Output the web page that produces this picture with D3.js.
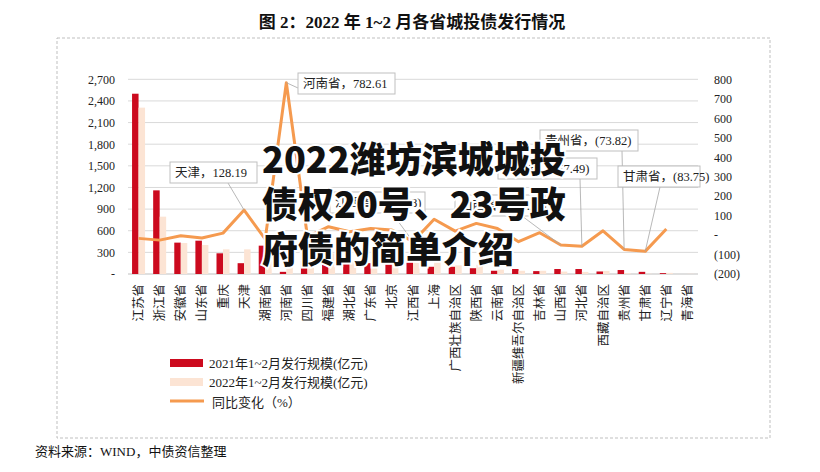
<!DOCTYPE html>
<html><head><meta charset="utf-8">
<script src="https://cdn.jsdelivr.net/npm/d3@7/dist/d3.min.js"></script>
<style>body{margin:0;background:#fff}svg{display:block}</style>
</head><body>
<svg id="c" width="820" height="472"></svg>
<script>
const categories = ["江苏省","浙江省","安徽省","山东省","重庆","天津","湖南省","河南省","四川省","福建省","湖北省","广东省","北京","江西省","上海","广西壮族自治区","陕西省","云南省","新疆维吾尔自治区","吉林省","山西省","河北省","西藏自治区","贵州省","甘肃省","辽宁省","青海省"];
const issue2021 = [2500,1160,435,462,287,150,393,30,180,200,180,150,160,230,100,100,80,45,69,40,69,69,35,55,30,12,0];
const issue2022 = [2307,795,430,402,342,342,310,265,175,285,205,200,210,152,180,120,128,60,45,45,34,29,43,14,5,16,3];
const yoyChange = [-17,-26,-4,-15,10,128.19,-21,782.61,-9,43,17,34,26,-33.58,81,20,60,34,-34,12,-51,-57.49,22,-73.82,-83.75,31,null];
const leftTicks = [0,300,600,900,1200,1500,1800,2100,2400,2700];
const rightTicks = [-200,-100,0,100,200,300,400,500,600,700,800];
const seriesNames = ["2021年1~2月发行规模(亿元)","2022年1~2月发行规模(亿元)","同比变化（%）"];
const calloutCats = ["河南省","天津","江西省","山西省","河北省","贵州省","甘肃省"];
const calloutTexts = ["河南省，782.61","天津，128.19","江西省，(33.58)","山西省，(51.26)","河北省，(57.49)","贵州省，(73.82)","甘肃省，(83.75)"];

// layout (not data)
const calloutBoxes = [[298,73,97,21],[170,162,87,21],[330,192,95,21],[455,195,90,21],[498,158,99,21],[540,130,98,21],[618,166,82,21]];
const calloutLeaderFrom = [[298,88],[228,183],[392,213],[522,216],[580,179],[622,151],[660,187]];

const svg = d3.select("#c");
const FONT = "'Liberation Serif','Noto Sans CJK SC',serif";
const RED = "#CC0A1E", PEACH = "#FCE4D4", ORANGE = "#F59A4F";
const plotL = 128, plotR = 698, plotT = 79.3, plotB = 274;

// title
svg.append("text").attr("x",412).attr("y",28).attr("text-anchor","middle")
  .attr("font-family",FONT).attr("font-weight","bold").attr("font-size",17).attr("fill","#111")
  .text("图 2：2022 年 1~2 月各省城投债发行情况");
// dashed frame
svg.append("rect").attr("x",57).attr("y",38).attr("width",713).attr("height",400)
  .attr("fill","none").attr("stroke","#bfbfbf").attr("stroke-dasharray","3,2");
// source
svg.append("text").attr("x",35).attr("y",456).attr("font-family",FONT).attr("font-size",13).attr("fill","#111")
  .text("资料来源：WIND，中债资信整理");

const x = d3.scaleBand().domain(categories).range([plotL,plotR]).paddingInner(0).paddingOuter(0);
const yL = d3.scaleLinear().domain([0,2700]).range([plotB,plotT]);
const yR = d3.scaleLinear().domain([-200,800]).range([plotB,plotT]);

// grid
svg.append("g").selectAll("line").data(leftTicks).join("line")
  .attr("x1",plotL).attr("x2",plotR).attr("y1",d=>yL(d)).attr("y2",d=>yL(d))
  .attr("stroke",d=>d===0?"#bfbfbf":"#d9d9d9").attr("stroke-width",1);

// axes
const fmtL = d => d===0 ? "-" : d3.format(",")(d);
const fmtR = d => d===0 ? "-" : (d<0 ? "("+(-d)+")" : String(d));
const axL = svg.append("g").attr("transform",`translate(${plotL-10},0)`)
  .call(d3.axisLeft(yL).tickValues(leftTicks).tickFormat(fmtL).tickSize(0));
const axR = svg.append("g").attr("transform",`translate(${plotR+13},0)`)
  .call(d3.axisRight(yR).tickValues(rightTicks).tickFormat(fmtR).tickSize(0));
[axL,axR].forEach(a=>{a.select(".domain").remove();
  a.selectAll("text").attr("font-family",FONT).attr("font-size",12).attr("fill","#222");});

// bars
const bw = 6.5;
svg.append("g").selectAll("rect").data(categories).join("rect")
  .attr("x",d=>x(d)+x.bandwidth()/2-bw).attr("width",bw)
  .attr("y",(d,i)=>yL(issue2021[i])).attr("height",(d,i)=>yL(0)-yL(issue2021[i])).attr("fill",RED);
svg.append("g").selectAll("rect").data(categories).join("rect")
  .attr("x",d=>x(d)+x.bandwidth()/2).attr("width",bw)
  .attr("y",(d,i)=>yL(issue2022[i])).attr("height",(d,i)=>yL(0)-yL(issue2022[i])).attr("fill",PEACH);

// line
const line = d3.line().defined(d=>d.v!==null).x(d=>x(d.c)+x.bandwidth()/2).y(d=>yR(d.v));
svg.append("path").datum(categories.map((c,i)=>({c,v:yoyChange[i]})))
  .attr("d",line).attr("fill","none").attr("stroke",ORANGE).attr("stroke-width",3).attr("stroke-linejoin","round");

// callouts
const cg = svg.append("g");
calloutCats.forEach((c,k)=>{
  const i = categories.indexOf(c);
  const px = x(c)+x.bandwidth()/2, py = yR(yoyChange[i]);
  const [bx,by,bwid,bh] = calloutBoxes[k];
  const [lx,ly] = calloutLeaderFrom[k];
  cg.append("line").attr("x1",lx).attr("y1",ly).attr("x2",px).attr("y2",py)
    .attr("stroke","#a6a6a6").attr("stroke-width",0.8);
  cg.append("rect").attr("x",bx).attr("y",by).attr("width",bwid).attr("height",bh)
    .attr("fill","#fff").attr("stroke","#bfbfbf").attr("stroke-width",1);
  cg.append("text").attr("x",bx+5).attr("y",by+bh/2+4.5).attr("font-family",FONT).attr("font-size",12.5)
    .attr("fill","#222").text(calloutTexts[k]);
});

// category labels (rotated)
svg.append("g").selectAll("text").data(categories).join("text")
  .attr("transform",d=>`translate(${x(d)+x.bandwidth()/2},284) rotate(-90)`)
  .attr("text-anchor","end").attr("dy","0.36em")
  .attr("font-family","'Noto Sans CJK SC',sans-serif").attr("font-size",12.5).attr("fill","#222").text(d=>d);

// legend
const lg = svg.append("g");
const ly0 = 363;
lg.append("rect").attr("x",170).attr("y",ly0-4).attr("width",33).attr("height",8).attr("fill",RED);
lg.append("rect").attr("x",170).attr("y",ly0+15).attr("width",33).attr("height",8).attr("fill",PEACH);
lg.append("line").attr("x1",170).attr("x2",204).attr("y1",ly0+38).attr("y2",ly0+38).attr("stroke",ORANGE).attr("stroke-width",3);
seriesNames.forEach((n,i)=>{
  lg.append("text").attr("x",i===2?212:209).attr("y",ly0+4.5+i*19.5).attr("font-family",FONT).attr("font-size",13)
    .attr("fill","#222").text(n);
});

// overlay headline
const ov = ["2022潍坊滨城城投","债权20号、23号政","府债的简单介绍"];
svg.append("g").selectAll("text").data(ov).join("text")
  .attr("x",262).attr("y",(d,i)=>173+i*45)
  .attr("font-family","'Noto Sans CJK SC',sans-serif").attr("font-weight",900).attr("font-size",36)
  .attr("fill","#111").attr("stroke","#fff").attr("stroke-width",4).attr("paint-order","stroke")
  .text(d=>d);
</script>
</body></html>
